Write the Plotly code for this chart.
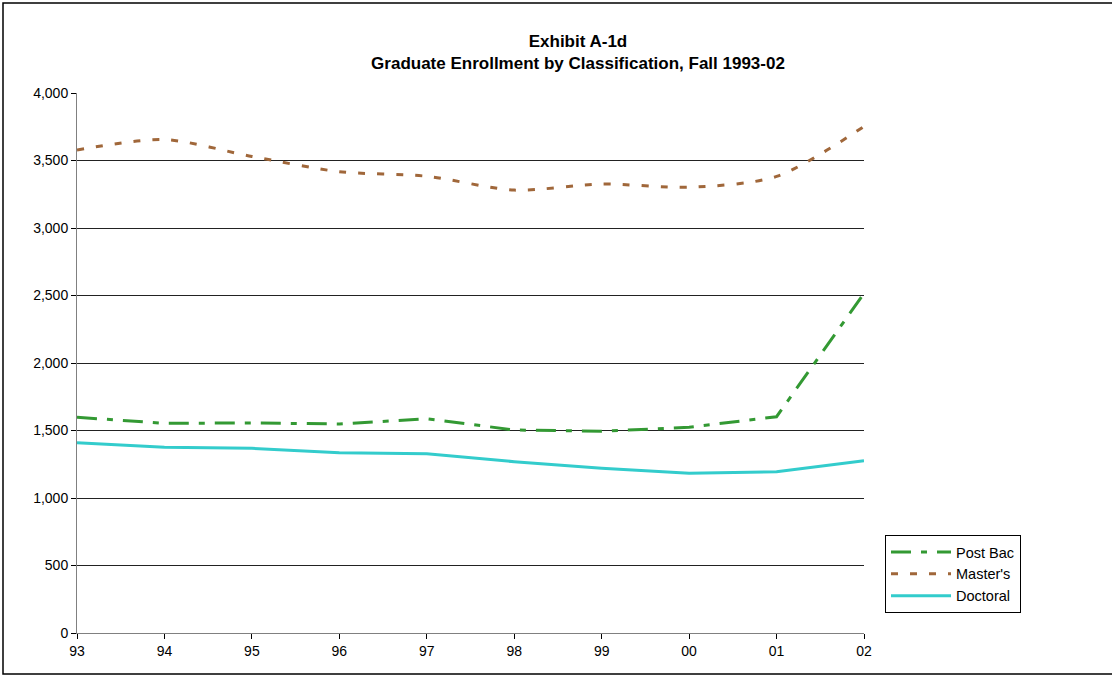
import plotly.graph_objects as go

years = ["93", "94", "95", "96", "97", "98", "99", "00", "01", "02"]
post_bac = [1598, 1553, 1556, 1548, 1587, 1504, 1494, 1524, 1602, 2516]
masters = [3578, 3655, 3530, 3417, 3383, 3281, 3326, 3302, 3382, 3752]
doctoral = [1410, 1376, 1368, 1336, 1328, 1269, 1220, 1183, 1195, 1276]

W, H = 1112, 676
L, R, T, B = 77, 864, 93, 633

fig = go.Figure()
fig.add_trace(go.Scatter(x=years, y=post_bac, name="Post Bac", mode="lines",
                         line=dict(color="#339933", width=3, dash="20px,10px,6px,10px")))
fig.add_trace(go.Scatter(x=years, y=masters, name="Master's", mode="lines",
                         line=dict(color="#A0673A", width=3, dash="7px,12px", shape="spline", smoothing=0.8)))
fig.add_trace(go.Scatter(x=years, y=doctoral, name="Doctoral", mode="lines",
                         line=dict(color="#33CCCC", width=3)))

def px_x(p):
    return (p - L) / (R - L)

def px_y(p):
    return (B - p) / (B - T)

fig.add_shape(type="rect", xref="paper", yref="paper",
              x0=px_x(3), x1=px_x(1120), y0=px_y(674), y1=px_y(3),
              line=dict(color="black", width=1.5), fillcolor="rgba(0,0,0,0)", layer="below")

fig.update_layout(
    width=W, height=H,
    margin=dict(l=L, r=W - R, t=T, b=H - B),
    paper_bgcolor="white", plot_bgcolor="white",
    font=dict(family="Liberation Sans, Arial, sans-serif", size=14, color="black"),
    title=dict(text="<b>Exhibit A-1d<br>Graduate Enrollment by Classification, Fall 1993-02</b>",
               x=px_x(578), xref="paper", xanchor="center",
               y=1 - 47 / H, yanchor="top",
               font=dict(size=17, color="black")),
    showlegend=True,
    legend=dict(x=px_x(885), y=px_y(535), xanchor="left", yanchor="top",
                bordercolor="black", borderwidth=1, bgcolor="white",
                itemwidth=60, tracegroupgap=0,
                font=dict(size=14.5, color="black")),
    xaxis=dict(type="category", range=[0, 9], showgrid=False,
               showline=True, linecolor="#808080", linewidth=1,
               ticks="outside", ticklen=5, tickcolor="black",
               tickfont=dict(size=14, color="black")),
    yaxis=dict(range=[0, 4000], dtick=500, tickformat=",",
               showgrid=True, gridcolor="#222222", gridwidth=1,
               showline=True, linecolor="#808080", linewidth=1,
               ticks="outside", ticklen=5, tickcolor="black",
               zeroline=False,
               tickfont=dict(size=14, color="black")),
)

fig.write_html("out.html", config={"displayModeBar": False},
               post_script="document.body.style.margin='0';document.body.style.overflow='hidden';")
